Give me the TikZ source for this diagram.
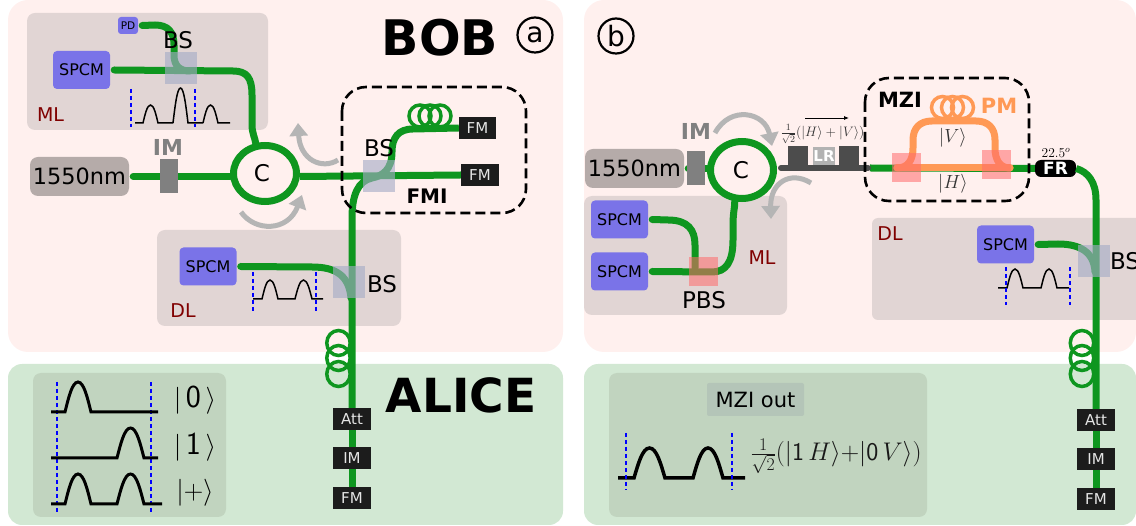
\documentclass[tikz,border=0pt]{standalone}
\usepackage{fix-cm}
\usepackage[no-math]{fontspec}
\setmainfont{DejaVu Sans}
\usepackage{xcolor}
\usetikzlibrary{arrows.meta, shapes.geometric, positioning}
\definecolor{bobpink}{HTML}{FFF0EE}
\definecolor{alicegreen}{HTML}{D2E8D3}
\definecolor{innergreen}{HTML}{C1D4BF}
\definecolor{labgray}{HTML}{E1D5D4}
\definecolor{fibergreen}{HTML}{0E961F}
\definecolor{spcmblue}{HTML}{7A73E8}
\definecolor{lasergray}{HTML}{B5ABA9}
\definecolor{pmorange}{HTML}{FF9955}
\definecolor{labelred}{HTML}{800000}
\definecolor{arrowgray}{HTML}{B5B5B5}
\definecolor{bscolor}{HTML}{A5ACC6}
\definecolor{pbscolor}{HTML}{FF6B6B}
\definecolor{mzioutgray}{HTML}{B4C5B8}
\tikzset{txt/.style={inner sep=0pt, font=\fontsize{#1}{#1}\selectfont}}
\tikzset{boldtxt/.style={inner sep=0pt, font=\fontsize{#1}{#1}\selectfont\bfseries}}
\tikzset{fiber/.style={line width=7pt, color=fibergreen, line cap=round}}
\tikzset{intobox/.style={fiber, line cap=butt}}
\tikzset{armfiber/.style={line width=7pt, color=pmorange, line cap=round}}
\tikzset{coilloop/.style={draw=fibergreen, line width=3.5pt, ellipse, inner sep=0pt, minimum width=22pt, minimum height=22pt}}
\tikzset{armloop/.style={coilloop, draw=pmorange}}
\tikzset{longloop/.style={coilloop, minimum width=23.5pt, minimum height=25pt}}
\tikzset{circulator/.style={ellipse, draw=fibergreen, line width=7pt, inner sep=0pt, minimum width=63pt, minimum height=56pt}}
\tikzset{spcmbox/.style={fill=spcmblue, rounded corners=4pt, inner sep=0pt, minimum width=57pt, minimum height=38pt, font=\fontsize{16}{16}\selectfont}}
\tikzset{laserbox/.style={fill=lasergray, rounded corners=8pt, inner sep=0pt, minimum width=99pt, minimum height=39pt, font=\fontsize{22.4}{22.4}\selectfont}}
\tikzset{darkbox/.style={fill=black!89, text=white!90!black, inner sep=0pt, minimum width=38pt, minimum height=22pt, font=\fontsize{15}{15}\selectfont}}
\tikzset{imbox/.style={fill=black!50, inner sep=0pt, minimum width=18pt, minimum height=34pt}}
\tikzset{bsbox/.style={fill=bscolor, fill opacity=0.62, inner sep=0pt, minimum size=32pt}}
\tikzset{pbsbox/.style={fill=pbscolor, fill opacity=0.55, inner sep=0pt, minimum size=29pt}}
\tikzset{dashbox/.style={draw=black, line width=2.6pt, dash pattern=on 10pt off 5pt, rounded corners=24pt}}
\tikzset{pulse/.style={draw=black, line width=1.5pt}}
\tikzset{bigpulse/.style={draw=black, line width=3pt}}
\tikzset{timebin/.style={draw=blue, line width=1.2pt, dash pattern=on 4pt off 3pt}}
\tikzset{turn/.style={draw=arrowgray, line width=5pt, -{Triangle[length=13pt,width=18pt]}}}
% one pulse on a baseline: start, end, base, peak
\newcommand{\hump}[4]{-- (#1,#3) .. controls ({#1+0.13*(#2-#1)},{#3+0.45*(#4-#3)}) and ({#1+0.27*(#2-#1)},#4) .. ({#1+0.5*(#2-#1)},#4) .. controls ({#1+0.73*(#2-#1)},#4) and ({#1+0.87*(#2-#1)},{#3+0.45*(#4-#3)}) .. (#2,#3)}
% sans digit as it sits in the kets
\newcommand{\ketdigit}[1]{\,\textsf{\fontsize{32}{32}\selectfont #1}\,}
\begin{document}
\begin{tikzpicture}[x=1pt,y=-1pt]
	\useasboundingbox (0,0) rectangle (1136,526);
	\clip (0,0) rectangle (1136,526);
	% panels
	\fill[bobpink, rounded corners=20pt] (8,0) rectangle (563,352);
	\fill[bobpink, rounded corners=20pt] (584,0) rectangle (1136,352);
	\fill[alicegreen, rounded corners=14pt] (8,364) rectangle (563,525);
	\fill[alicegreen, rounded corners=14pt] (584,364) rectangle (1136,525);
	\fill[labgray, rounded corners=8pt] (27,13) rectangle (268,130);
	\fill[labgray, rounded corners=8pt] (157,230) rectangle (401,326);
	\fill[labgray, rounded corners=8pt] (584,196) rectangle (787,315);
	\fill[labgray, rounded corners=6pt] (872,218) rectangle (1150,320);
	\fill[innergreen, rounded corners=8pt] (33,373) rectangle (226,517);
	\fill[innergreen, rounded corners=8pt] (609,373) rectangle (927,517);
	% left side nodes
	\node[spcmbox] (spcmml) at (81.5,70) {SPCM};
	\node[spcmbox, minimum width=20pt, minimum height=17pt, rounded corners=3pt, font=\fontsize{10.5}{10.5}\selectfont] (pd) at (128,25.5) {PD};
	\node[laserbox] (laser) at (79.5,176.5) {1550nm};
	\node[circulator] (circa) at (265,173.5) {};
	\node[txt=23] (circalab) at (262,173) {C};
	\node[darkbox, minimum width=37pt] (fmone) at (477.5,128) {FM};
	\node[darkbox] (fmtwo) at (480,175) {FM};
	\node[spcmbox] (spcmdl) at (208,266.5) {SPCM};
	\node[darkbox] (atta) at (352,419) {Att};
	\node[darkbox] (ima) at (352,458) {IM};
	\node[darkbox] (fma) at (352,498) {FM};
	% left side fibers
	\draw[fiber] ([xshift=4pt]spcmml.east) -- (233,71) .. controls (247,71) and (252,78) .. (252,95) -- (252,125) .. controls (252,133) and (255,138) .. (circa.107);
	\draw[fiber] ([xshift=4pt]pd.east) -- (155,25) .. controls (168,25) and (174,32) .. (174,45) -- (174,55) .. controls (174,66) and (180,71) .. (190,71);
	\draw[fiber] ([xshift=4pt]laser.east) -- (circa.west |- laser.east);
	\draw[intobox] (circa.east |- laser.east) -- (fmtwo.west);
	\draw[intobox] (fmone.west) -- (413,129) .. controls (398,129) and (392,138) .. (392,152) .. controls (392,170) and (382,176) .. (372,178) .. controls (358,181) and (352,195) .. (352,218) -- (atta.north);
	\draw[intobox] (atta.south) -- (ima.north);
	\draw[intobox] (ima.south) -- (fma.north);
	\draw[fiber] ([xshift=4pt]spcmdl.east) -- (312,267) .. controls (335,267) and (349,275) .. (351,298);
	% left coils
	\node[coilloop] (coila) at (420,116) {};
	\node[coilloop] (coilb) at (430,116) {};
	\node[coilloop] (coilc) at (440,116) {};
	\node[longloop] (coild) at (338.5,343) {};
	\node[longloop] (coile) at (338.5,358) {};
	\node[longloop] (coilf) at (338.5,374) {};
	\node[imbox] (imleft) at (169,176) {};
	% left beam splitters
	\node[bsbox] (bsml) at (181,68) {};
	\node[bsbox] (bsfmi) at (379,176) {};
	\node[bsbox] (bsdl) at (349,282) {};
	\node[txt=23] (bsmllab) at (178,40) {BS};
	\node[txt=23] (bsfmilab) at (379,148) {BS};
	\node[txt=23] (bsdllab) at (382,284) {BS};
	\node[boldtxt=22, text=black!50] (imleftlab) at (168,147) {IM};
	\node[txt=19, text=labelred] (mlleft) at (50.5,115) {ML};
	\node[txt=19, text=labelred] (dlleft) at (183,311) {DL};
	\node[boldtxt=49] (bob) at (440,38) {BOB};
	\node[boldtxt=47] (alice) at (461,395) {ALICE};
	\node[boldtxt=20] (fmi) at (427,196) {FMI};
	\node[circle, draw=black, line width=2.2pt, minimum size=35pt, inner sep=0pt, font=\fontsize{28}{28}\selectfont] (tagA) at (535,35) {a};
	\draw[dashbox] (342,87) rectangle (526,213);
	% turning arrows
	\draw[turn] (338,160) .. controls (322,170) and (300,160) .. (298,123);
	\draw[turn] (241,212) .. controls (255,232) and (288,232) .. (302,195);
	% pulses in the labs
	\draw[pulse] (135,123) \hump{143}{158}{123}{105} -- (173,123);
	\draw[pulse] (173,123) \hump{173}{188}{123}{88} -- (203,123);
	\draw[pulse] (203,123) \hump{203}{218}{123}{105} -- (230,123);
	\draw[timebin] (131,89) -- (131,127);
	\draw[timebin] (195,89) -- (195,127);
	\draw[pulse] (253,299) \hump{262}{278}{299}{280} \hump{295}{312}{299}{280} -- (323,299);
	\draw[timebin] (253,272) -- (253,311);
	\draw[timebin] (316,272) -- (316,311);
	% alice states
	\draw[timebin] (57,382) -- (57,513);
	\draw[timebin] (151,382) -- (151,513);
	\draw[bigpulse] (51,412) \hump{65}{91}{412}{382} -- (158,412);
	\draw[bigpulse] (51,458) \hump{117}{144}{458}{428} -- (158,458);
	\draw[bigpulse] (51,504) \hump{65}{91}{504}{474} \hump{117}{144}{504}{474} -- (162,504);
	\node[txt=27] (keta) at (195,400) {$|\ketdigit{0}\rangle$};
	\node[txt=27] (ketb) at (195,447) {$|\ketdigit{1}\rangle$};
	\node[txt=27] (ketc) at (195,493) {$|{+}\rangle$};
	% right side nodes
	\node[circle, draw=black, line width=2.2pt, minimum size=35pt, inner sep=0pt, font=\fontsize{28}{28}\selectfont] (tagB) at (616,36) {b};
	\node[laserbox] (laserb) at (634.5,168.5) {1550nm};
	\node[circulator, minimum height=57pt] (circb) at (742,170) {};
	\node[txt=23] (circblab) at (741,170) {C};
	\node[spcmbox] (spcmh) at (619.5,219.5) {SPCM};
	\node[spcmbox] (spcmv) at (619.5,271.5) {SPCM};
	\node[spcmbox] (spcmdlb) at (1005.5,244.5) {SPCM};
	\node[fill=black, rounded corners=6pt, text=white, inner sep=0pt, minimum width=41pt, minimum height=17pt, font=\fontsize{17}{17}\selectfont\bfseries] (fr) at (1055.5,168.5) {FR};
	\node[darkbox] (attb) at (1096,420) {Att};
	\node[darkbox] (imb) at (1096,459) {IM};
	\node[darkbox] (fmb) at (1096,499) {FM};
	% right side fibers
	\draw[fiber] ([xshift=4pt]laserb.east) -- (circb.west |- laserb.east);
	\draw[fiber] ([xshift=4pt]spcmh.east) -- (668,220) .. controls (688,220) and (695,230) .. (695,245) -- (695,268);
	\draw[fiber] ([xshift=4pt]spcmv.east) -- (712,272) .. controls (726,272) and (733,262) .. (733,240) -- (733,225) .. controls (733,212) and (735,207) .. (circb.257);
	\draw[intobox] (870,168) -- (fr.west);
	\draw[intobox] (fr.east) .. controls (1088,172) and (1096,182) .. (1096,200) -- (attb.north);
	\draw[intobox] (attb.south) -- (imb.north);
	\draw[intobox] (imb.south) -- (fmb.north);
	\draw[fiber] ([xshift=4pt]spcmdlb.east) -- (1058,244) .. controls (1080,244) and (1094,252) .. (1095,272);
	\draw[armfiber] (897,168) -- (1010,168);
	\draw[armfiber] (897,168) .. controls (908,168) and (913,160) .. (913,148) -- (913,140) .. controls (913,128) and (920,121) .. (932,121) -- (976,121) .. controls (988,121) and (995,128) .. (995,140) -- (995,148) .. controls (995,160) and (1000,168) .. (1010,168);
	% right coils
	\node[armloop] (armloopa) at (942.5,107.5) {};
	\node[armloop] (armloopb) at (952.5,107.5) {};
	\node[armloop] (armloopc) at (962.5,107.5) {};
	\node[longloop] (coilg) at (1082,343) {};
	\node[longloop] (coilh) at (1082,358) {};
	\node[longloop] (coili) at (1082,374) {};
	\node[imbox] (imright) at (696,168) {};
	% line retarder
	\draw[line width=6pt, color=black!70, line cap=round] (781,168) -- (868,168);
	\fill[black!70] (788,146) rectangle (808,168);
	\fill[black!70] (839,146) rectangle (859,168);
	\node[fill=black!30, text=white, inner sep=0pt, minimum width=22pt, minimum height=18pt, font=\fontsize{15}{15}\selectfont\bfseries] (lr) at (824,156) {LR};
	% splitters
	\node[pbsbox] (pbsml) at (703.5,271.5) {};
	\node[pbsbox] (pbsin) at (906.5,167.5) {};
	\node[pbsbox] (pbsout) at (996.5,164.5) {};
	\node[bsbox] (bsdlb) at (1094,261) {};
	% right labels
	\node[txt=23] (pbslab) at (704,300) {PBS};
	\node[txt=23] (bsdlblab) at (1125,261) {BS};
	\node[boldtxt=22, text=black!50] (imrightlab) at (696,131) {IM};
	\node[txt=19, text=labelred] (mlright) at (762,258) {ML};
	\node[txt=19, text=labelred] (dlright) at (890,234) {DL};
	\node[boldtxt=21] (mzi) at (900,100) {MZI};
	\node[boldtxt=21, text=pmorange] (pm) at (999,106) {PM};
	\node[txt=19, text=black!80] (armv) at (953,138) {$|V\rangle$};
	\node[txt=19, text=black!80] (armh) at (953,184) {$|H\rangle$};
	\node[txt=13.5] (angle) at (1056,153) {$22.5^o$};
	\node[txt=13.7, text=black!80] (instate) at (822.5,134) {$\frac{1}{\sqrt{2}}(|H\rangle+|V\rangle)$};
	\coordinate (dirstart) at (805,118);
	\coordinate (dirend) at (849,118);
	\draw[line width=0.8pt, -{Latex[length=5pt,width=4pt]}] (dirstart) -- (dirend);
	\draw[dashbox] (865,78) rectangle (1029,201);
	\draw[turn] (715,133) .. controls (730,105) and (765,112) .. (772,146);
	\draw[turn] (811,183) .. controls (790,170) and (770,183) .. (771,219);
	% pulses on the right
	\draw[pulse] (998,288) \hump{1007}{1023}{288}{269} \hump{1041}{1057}{288}{269} -- (1069,288);
	\draw[timebin] (1006,267) -- (1006,305);
	\draw[timebin] (1070,267) -- (1070,305);
	\node[fill=mzioutgray, rounded corners=2pt, inner sep=0pt, minimum width=97pt, minimum height=33pt, font=\fontsize{21}{21}\selectfont] (mziout) at (755.5,399.5) {MZI out};
	\draw[bigpulse, line width=3.5pt] (618,478) \hump{634}{665}{478}{448} \hump{693}{723}{478}{448} -- (745,478);
	\draw[timebin] (626,433) -- (626,490);
	\draw[timebin] (732,433) -- (732,490);
	\node[txt=25.5, text=black!90] (outstate) at (836,456) {$\frac{1}{\sqrt{2}}(|\textsf{1}\,H\rangle{+}|\textsf{0}\,V\rangle)$};
\end{tikzpicture}
\end{document}
